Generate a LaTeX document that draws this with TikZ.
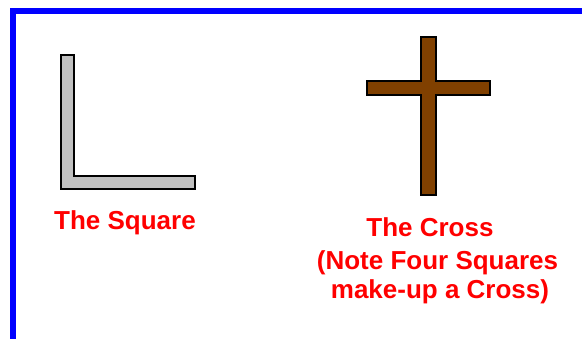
\documentclass[tikz,border=0pt]{standalone}
\usepackage{fontspec}
\setmainfont{Liberation Sans}
\begin{document}
\begin{tikzpicture}[x=1pt,y=-1pt,
  frame/.style={fill={rgb,255:red,0;green,0;blue,255},draw=none},
  shapeline/.style={draw=black,line width=1.5pt,line join=miter},
  label/.style={text={rgb,255:red,255;green,0;blue,0},font=\fontsize{26}{32}\selectfont\bfseries,inner sep=0pt,anchor=base}]
\useasboundingbox (0,0) rectangle (582,339);
\fill[white] (0,0) rectangle (582,339);
% blue frame
\path[frame] (10,8) rectangle (582,14);
\path[frame] (10,8) rectangle (16,339);
% the square (L shape)
\path[shapeline,fill={rgb,255:red,192;green,192;blue,192}]
  (61,55) -- (74,55) -- (74,176) -- (195,176) -- (195,189) -- (61,189) -- cycle;
% the cross
\path[shapeline,fill={rgb,255:red,128;green,64;blue,0}]
  (421,37) -- (436,37) -- (436,81) -- (490,81) -- (490,95) -- (436,95)
  -- (436,195) -- (421,195) -- (421,95) -- (367,95) -- (367,81) -- (421,81) -- cycle;
% labels
\node[label] (sq) at (125,230) {The Square};
\node[label] (cr) at (430,237) {The Cross};
\node[label] (n1) at (437.5,270) {(Note Four Squares};
\node[label] (n2) at (440,299) {make-up a Cross)};
\end{tikzpicture}
\end{document}
